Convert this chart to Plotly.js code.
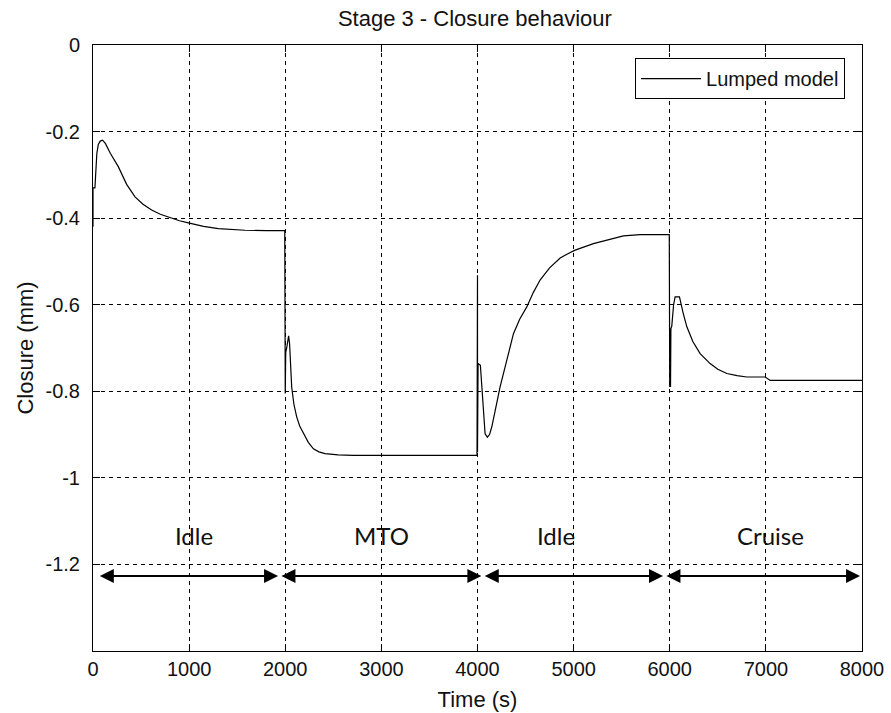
<!DOCTYPE html>
<html>
<head>
<meta charset="utf-8">
<script src="https://cdn.plot.ly/plotly-3.0.1.min.js"></script>
<style>html,body{margin:0;padding:0;background:#fff;}#chart{width:891px;height:713px;}</style>
</head>
<body>
<div id="chart"></div>
<script>
// Time (s)
var time = [0, 0, 20, 40, 55, 75, 100, 130, 180, 263, 350, 437, 520, 610, 700, 784, 900, 992, 1150, 1304, 1450, 1582, 1800, 1995,
  2000, 2005, 2015, 2035, 2045, 2067, 2090, 2119, 2150, 2189, 2240, 2293, 2350, 2414, 2550, 2709, 3200, 3995,
  4000, 4000, 4003, 4006, 4030, 4048, 4063, 4079, 4103, 4125, 4149, 4190, 4235, 4305, 4374, 4440, 4513, 4580, 4651, 4750, 4860, 4950, 5016, 5206, 5350, 5518, 5692, 5995,
  6000, 6004, 6008, 6012, 6021, 6040, 6056, 6101, 6140, 6178, 6240, 6316, 6420, 6500, 6594, 6700, 6802, 6993, 7045, 8000];
// Closure (mm), lumped model
var closure = [-0.42, -0.33, -0.33, -0.25, -0.23, -0.222, -0.22, -0.228, -0.25, -0.281, -0.322, -0.351, -0.368, -0.381, -0.391, -0.398, -0.406, -0.411, -0.419, -0.424, -0.426, -0.428, -0.429, -0.429,
  -0.805, -0.71, -0.70, -0.672, -0.69, -0.79, -0.83, -0.859, -0.88, -0.898, -0.918, -0.933, -0.94, -0.944, -0.947, -0.948, -0.948, -0.948,
  -0.532, -0.94, -0.58, -0.736, -0.74, -0.80, -0.867, -0.898, -0.906, -0.90, -0.882, -0.84, -0.79, -0.728, -0.667, -0.633, -0.605, -0.572, -0.543, -0.515, -0.492, -0.481, -0.474, -0.459, -0.45, -0.441, -0.438, -0.438,
  -0.79, -0.655, -0.79, -0.655, -0.65, -0.60, -0.582, -0.582, -0.62, -0.651, -0.685, -0.713, -0.736, -0.749, -0.759, -0.764, -0.767, -0.767, -0.775, -0.775];

// Phase annotations
var phaseLabels = ["Idle", "MTO", "Idle", "Cruise"];
var phaseLabelX = [1047, 3003, 4817, 7043];
var phaseLabelY = -1.133;
var arrowStart = [55, 1945, 4060, 5950];
var arrowEnd = [1925, 4040, 5930, 7980];
var arrowY = -1.227;

var xTicks = [0, 1000, 2000, 3000, 4000, 5000, 6000, 7000, 8000];
var yTicks = [0, -0.2, -0.4, -0.6, -0.8, -1, -1.2];
var yTickText = ["0", "-0.2", "-0.4", "-0.6", "-0.8", "-1", "-1.2"];

var annotations = [];
for (var i = 0; i < phaseLabels.length; i++) {
  annotations.push({
    x: phaseLabelX[i], y: phaseLabelY, xref: 'x', yref: 'y',
    text: phaseLabels[i], showarrow: false,
    font: {family: 'Lato, "Open Sans", sans-serif', size: 24, color: '#111'}
  });
  annotations.push({
    x: arrowEnd[i], y: arrowY, ax: arrowStart[i], ay: arrowY,
    xref: 'x', yref: 'y', axref: 'x', ayref: 'y',
    text: '', showarrow: true, arrowside: 'end+start',
    arrowhead: 2, startarrowhead: 2, arrowsize: 1.4, startarrowsize: 1.4,
    arrowwidth: 2, arrowcolor: '#000', standoff: 0, startstandoff: 0
  });
}

var trace = {
  x: time, y: closure, type: 'scatter', mode: 'lines',
  name: 'Lumped model', line: {color: '#000', width: 1.2}
};

var axisFont = {family: '"Liberation Sans", Arial, sans-serif', size: 20, color: '#111'};
var labelFont = {family: '"Liberation Sans", Arial, sans-serif', size: 22, color: '#111'};

var layout = {
  width: 891, height: 713,
  margin: {l: 93, r: 29, t: 45, b: 62},
  paper_bgcolor: '#fff', plot_bgcolor: '#fff',
  title: {text: 'Stage 3 - Closure behaviour', font: {family: '"Liberation Sans", Arial, sans-serif', size: 22, color: '#111'},
          x: 0.533, xanchor: 'center', y: 0.975, yref: 'container', yanchor: 'middle'},
  xaxis: {
    range: [0, 8000], tickvals: xTicks, ticktext: xTicks.map(String),
    ticks: 'inside', ticklen: 7, tickcolor: '#000', mirror: 'ticks',
    showline: true, linecolor: '#000', linewidth: 1,
    showgrid: true, gridcolor: '#000', gridwidth: 1, griddash: '4px,4px',
    zeroline: false, tickfont: axisFont,
    title: {text: 'Time (s)', font: labelFont, standoff: 12}
  },
  yaxis: {
    range: [-1.4, 0], tickvals: yTicks, ticktext: yTickText,
    ticks: 'inside', ticklen: 7, tickcolor: '#000', mirror: 'ticks',
    showline: true, linecolor: '#000', linewidth: 1,
    showgrid: true, gridcolor: '#000', gridwidth: 1, griddash: '4px,4px',
    zeroline: false, tickfont: axisFont, ticklabelstandoff: 8,
    title: {text: 'Closure (mm)', font: labelFont, standoff: 5}
  },
  showlegend: true,
  legend: {
    x: 0.978, xanchor: 'right', y: 0.9785, yanchor: 'top',
    bgcolor: '#fff', bordercolor: '#000', borderwidth: 1,
    font: axisFont, itemwidth: 60
  },
  annotations: annotations
};

Plotly.newPlot('chart', [trace], layout, {displayModeBar: false, staticPlot: true});
</script>
</body>
</html>
